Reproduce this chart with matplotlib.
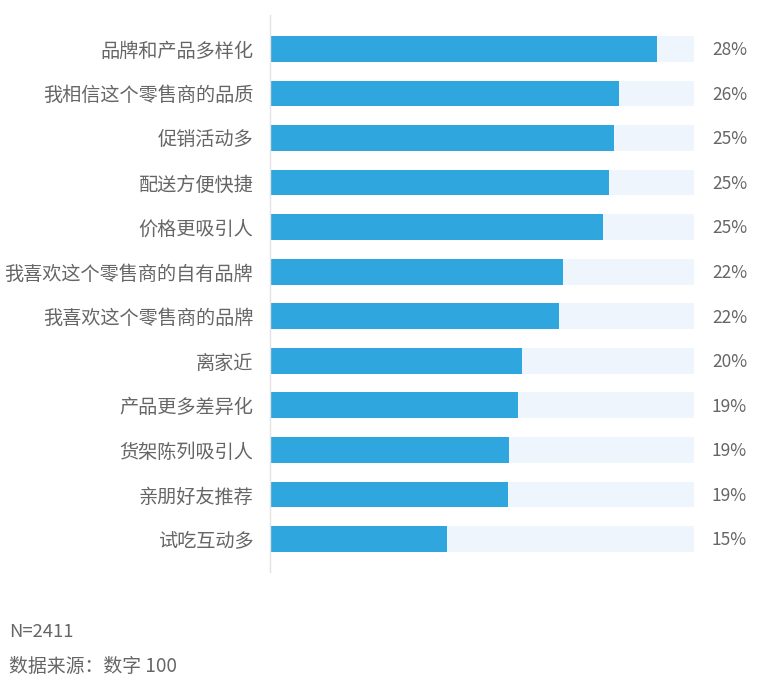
import numpy as np
import matplotlib.pyplot as plt

plt.rcParams['font.family'] = ['Noto Sans CJK SC', 'DejaVu Sans']

# 数据
categories = ['品牌和产品多样化', '我相信这个零售商的品质', '促销活动多', '配送方便快捷',
              '价格更吸引人', '我喜欢这个零售商的自有品牌', '我喜欢这个零售商的品牌',
              '离家近', '产品更多差异化', '货架陈列吸引人', '亲朋好友推荐', '试吃互动多']
share = [28.0, 25.2, 24.9, 24.5, 24.1, 21.2, 20.9, 18.2, 17.9, 17.3, 17.2, 12.8]
share_labels = ['28%', '26%', '25%', '25%', '25%', '22%', '22%', '20%', '19%', '19%', '19%', '15%']
track_max = 30.65

bar_color = '#2fa6de'
track_color = '#eef5fd'
text_color = '#666666'

fig = plt.figure(figsize=(7.7, 6.92), dpi=100)
ax = fig.add_axes([270 / 770, 1 - 572 / 692, (694 - 270) / 770, (572 - 15) / 692])

y = np.arange(len(categories))
ax.barh(y, [track_max] * len(y), height=0.58, color=track_color, zorder=1)
ax.barh(y, share, height=0.58, color=bar_color, zorder=2)

ax.set_xlim(0, track_max)
ax.set_ylim(len(y) - 0.26, -0.76)
ax.set_yticks(y)
ax.set_yticklabels(categories, fontsize=13.8, color=text_color)
ax.tick_params(axis='y', length=0, pad=12)
ax.set_xticks([])

for s in ['top', 'right', 'bottom']:
    ax.spines[s].set_visible(False)
ax.spines['left'].set_color('#e3e3e3')
ax.spines['left'].set_linewidth(1)

for yi, lab in zip(y, share_labels):
    ax.text(track_max + 1.3, yi + 0.03, lab, va='center', ha='left', fontsize=12.5, color=text_color)

fig.text(9 / 770, 1 - 632 / 692, 'N=2411', fontsize=13.3, color=text_color, va='center', ha='left')
fig.text(9 / 770, 1 - 667 / 692, '数据来源：数字 100', fontsize=13.6, color=text_color, va='center', ha='left')

fig.savefig('out.png', dpi=100)
